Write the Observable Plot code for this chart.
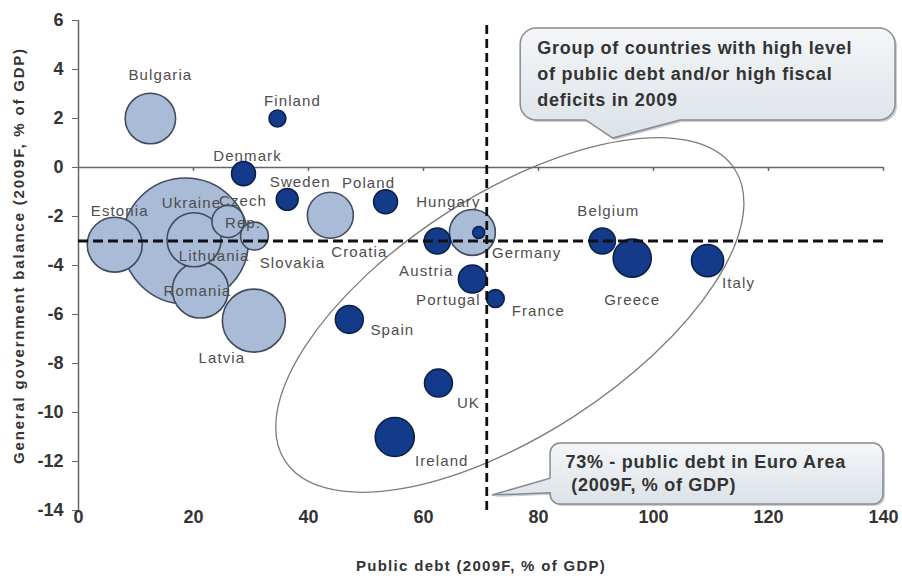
<!DOCTYPE html>
<html><head><meta charset="utf-8">
<script src="https://cdn.jsdelivr.net/npm/d3@7"></script>
<script src="https://cdn.jsdelivr.net/npm/@observablehq/plot@0.6"></script>
<style>
html,body{margin:0;padding:0;background:#fff;}
#chart svg text{font-family:"Liberation Sans",Arial,sans-serif;}
#chart g[fill="#4d4d4d"] text{letter-spacing:1.1px;}
#chart g[fill="#333"] text{letter-spacing:1.3px;}
#chart g[fill="#343434"] text{letter-spacing:1.8px;}
#chart g[fill="#333333"] text{letter-spacing:0.7px;white-space:pre;}
g[aria-label="y-axis tick label"] text,g[aria-label="x-axis tick label"] text{fill:#333;}
</style></head><body><div id="chart"></div>
<script>
// ---- data ----
const countries  = ["Bulgaria","Finland","Denmark","Sweden","Poland","Croatia","Ukraine","Estonia","Lithuania","Czech Rep.","Slovakia","Romania","Latvia","Hungary","Germany","Austria","Portugal","France","Belgium","Greece","Italy","Spain","UK","Ireland"];
const publicDebt = [12.5, 34.6, 28.7, 36.3, 53.4, 43.8, 18.6, 6.3, 20.1, 26.0, 30.6, 21.2, 30.5, 68.5, 69.6, 62.4, 68.5, 72.5, 91.1, 96.3, 109.4, 47.1, 62.6, 55.0];
const govBalance = [2.0, 2.0, -0.25, -1.3, -1.4, -1.95, -3.0, -3.15, -2.95, -2.2, -2.8, -5.0, -6.25, -2.65, -2.65, -3.0, -4.55, -5.35, -3.0, -3.7, -3.8, -6.2, -8.8, -11.0];
const bubbleSize = [16, 1.8, 3.6, 3.0, 3.6, 13.3, 100, 19, 18.4, 6.5, 4.9, 19.8, 25, 13.3, 0.9, 4.3, 4.9, 2.0, 4.3, 9.1, 6.5, 4.9, 4.9, 9.6];
const groups     = ["light","dark","dark","dark","dark","light","light","light","light","light","light","light","light","light","dark","dark","dark","dark","dark","dark","dark","dark","dark","dark"];
const xTicks = [0, 20, 40, 60, 80, 100, 120, 140];
const yTicks = [-14, -12, -10, -8, -6, -4, -2, 0, 2, 4, 6];
const euroAreaDebtLine = [71];
const deficitLine = [-3];
const xTitle = "Public debt (2009F, % of GDP)";
const yTitle = "General government balance (2009F, % of GDP)";
const groupNote = "Group of countries with high level\nof public debt and/or high fiscal\ndeficits in 2009";
const euroNote = "73% - public debt in Euro Area\n (2009F, % of GDP)";

// ---- layout (label offsets in px, annotation geometry) ----
const labelOffset = {
  "Bulgaria":[10,-45],"Finland":[15,-19],"Denmark":[4,-20],"Sweden":[13,-19],"Poland":[-17,-21],
  "Croatia":[29,35],"Ukraine":[6,-40],"Estonia":[5,-36],"Lithuania":[20,14],"Czech Rep.":[15,-11],
  "Slovakia":[38,25],"Romania":[-3,-1],"Latvia":[-32,35],"Hungary":[-24,-32],"Germany":[48,19],
  "Austria":[-11,28],"Portugal":[-24,19],"France":[43,10],"Belgium":[6,-32],"Greece":[0,40],
  "Italy":[31,20],"Spain":[43,9],"UK":[30,18],"Ireland":[47,22]
};
const groupEllipse = {x: 75.1, y: -6.04, rx: 268, ry: 120, angle: -33};
const groupCallout = {x0: 76.9, x1: 142.1, y0: 5.67, y1: 1.92, r: 16, tailX0: 88.3, tailX1: 104.7, tipX: 93, tipY: 1.18};
const euroCallout  = {x0: 82.1, x1: 140, y0: -11.27, y1: -13.76, r: 10, tailY0: -12.7, tailY1: -13.3, tipX: 72, tipY: -13.39};
const groupNotePos = {x: 79.8, y: 3.92};
const euroNotePos = {x: 84.7, y: -12.43};

const data = countries.map((c, i) => ({country: c, debt: publicDebt[i], balance: govBalance[i], size: bubbleSize[i], group: groups[i]}));

const LIGHT = "#a9bbd6", LIGHT_STROKE = "#3f4c5e";
const DARK = "#133b8a", DARK_STROKE = "#0a1f4c";

function gradientDefs(g, id) {
  const lg = g.append("defs").append("linearGradient").attr("id", id).attr("x1", 0).attr("y1", 0).attr("x2", 0).attr("y2", 1);
  lg.append("stop").attr("offset", "0%").attr("stop-color", "#f4f6f8");
  lg.append("stop").attr("offset", "100%").attr("stop-color", "#dce2e8");
}

function groupCalloutMark(index, scales) {
  const sx = scales.x, sy = scales.y, c = groupCallout;
  const x0 = sx(c.x0), x1 = sx(c.x1), y0 = sy(c.y0), y1 = sy(c.y1), r = c.r;
  const t0 = sx(c.tailX0), t1 = sx(c.tailX1), tx = sx(c.tipX), ty = sy(c.tipY);
  const d = `M${x0+r},${y0}H${x1-r}A${r},${r} 0 0 1 ${x1},${y0+r}V${y1-r}A${r},${r} 0 0 1 ${x1-r},${y1}H${t1}L${tx},${ty}L${t0},${y1}H${x0+r}A${r},${r} 0 0 1 ${x0},${y1-r}V${y0+r}A${r},${r} 0 0 1 ${x0+r},${y0}Z`;
  const g = d3.create("svg:g");
  gradientDefs(g, "gradA");
  g.append("path").attr("d", d).attr("transform", "translate(2,2)").attr("fill", "#c9ced4");
  g.append("path").attr("d", d).attr("fill", "url(#gradA)").attr("stroke", "#878c93").attr("stroke-width", 1.5);
  return g.node();
}

function euroCalloutMark(index, scales) {
  const sx = scales.x, sy = scales.y, c = euroCallout;
  const x0 = sx(c.x0), x1 = sx(c.x1), y0 = sy(c.y0), y1 = sy(c.y1), r = c.r;
  const ta = sy(c.tailY0), tb = sy(c.tailY1), tx = sx(c.tipX), ty = sy(c.tipY);
  const d = `M${x0+r},${y0}H${x1-r}A${r},${r} 0 0 1 ${x1},${y0+r}V${y1-r}A${r},${r} 0 0 1 ${x1-r},${y1}H${x0+r}A${r},${r} 0 0 1 ${x0},${y1-r}V${tb}L${tx},${ty}L${x0},${ta}V${y0+r}A${r},${r} 0 0 1 ${x0+r},${y0}Z`;
  const g = d3.create("svg:g");
  gradientDefs(g, "gradB");
  g.append("path").attr("d", d).attr("transform", "translate(2,2)").attr("fill", "#c9ced4");
  g.append("path").attr("d", d).attr("fill", "url(#gradB)").attr("stroke", "#878c93").attr("stroke-width", 1.5);
  return g.node();
}

function ellipseMark(index, scales) {
  const e = groupEllipse;
  const cx = scales.x(e.x), cy = scales.y(e.y);
  const g = d3.create("svg:g");
  g.append("ellipse").attr("cx", cx).attr("cy", cy).attr("rx", e.rx).attr("ry", e.ry)
    .attr("transform", `rotate(${e.angle} ${cx} ${cy})`)
    .attr("fill", "none").attr("stroke", "#7b7b7b").attr("stroke-width", 1.3);
  return g.node();
}

const labelMarks = data.map(d => Plot.text([d], {
  x: "debt", y: "balance", text: v => v.country.replace(" ", "\n"),
  dx: labelOffset[d.country][0], dy: labelOffset[d.country][1],
  fontSize: 15, fill: "#4d4d4d", lineHeight: 1.45
}));

const chart = Plot.plot({
  width: 902, height: 578,
  marginLeft: 78, marginRight: 19, marginTop: 20, marginBottom: 68,
  style: {background: "#fff", fontFamily: "Liberation Sans, Arial, sans-serif"},
  x: {domain: [0, 140]},
  y: {domain: [-14, 6]},
  r: {type: "sqrt", domain: [0, 100], range: [0, 63]},
  marks: [
    ellipseMark,
    Plot.ruleX([0], {y1: -14, y2: 6, stroke: "#666", strokeWidth: 1.5}),
    Plot.ruleY([0], {x1: 0, x2: 140, stroke: "#666", strokeWidth: 1.5}),
    Plot.ruleX(xTicks.filter(t => t > 0), {x: t => t, y1: 0, y2: -0.16, stroke: "#666", strokeWidth: 1.5}),
    Plot.axisY(yTicks, {tickSize: 6, tickPadding: 9, tickFormat: t => String(t), fontSize: 18, fontWeight: "bold", stroke: "#666", label: null}),
    Plot.axisX(xTicks, {tickSize: 0, tickPadding: 0, tickFormat: t => String(t), fontSize: 18, fontWeight: "bold", label: null}),
    Plot.dot(data.filter(d => d.group === "light"), {x: "debt", y: "balance", r: "size", fill: LIGHT, stroke: LIGHT_STROKE, strokeWidth: 1.6}),
    Plot.dot(data.filter(d => d.group === "dark"), {x: "debt", y: "balance", r: "size", fill: DARK, stroke: DARK_STROKE, strokeWidth: 1.6}),
    Plot.ruleY(deficitLine, {x1: 0, x2: 140, stroke: "#111", strokeWidth: 2.8, strokeDasharray: "10,5"}),
    Plot.ruleX(euroAreaDebtLine, {y1: -14, y2: 6, stroke: "#111", strokeWidth: 2.8, strokeDasharray: "9,5"}),
    ...labelMarks,
    groupCalloutMark,
    euroCalloutMark,
    Plot.text([groupNote], {x: groupNotePos.x, y: groupNotePos.y, textAnchor: "start", lineAnchor: "middle", lineHeight: 1.44, fontSize: 18, fontWeight: "bold", fill: "#333333"}),
    Plot.text([euroNote], {x: euroNotePos.x, y: euroNotePos.y, textAnchor: "start", lineAnchor: "middle", lineHeight: 1.28, fontSize: 18, fontWeight: "bold", fill: "#333333"}),
    Plot.text([xTitle], {frameAnchor: "bottom", dy: 60, fontSize: 15, fontWeight: "bold", fill: "#333"}),
    Plot.text([yTitle], {frameAnchor: "left", textAnchor: "middle", rotate: -90, dx: -59, dy: -10, fontSize: 15, fontWeight: "bold", fill: "#343434"})
  ]
});
document.getElementById("chart").appendChild(chart);
</script></body></html>
